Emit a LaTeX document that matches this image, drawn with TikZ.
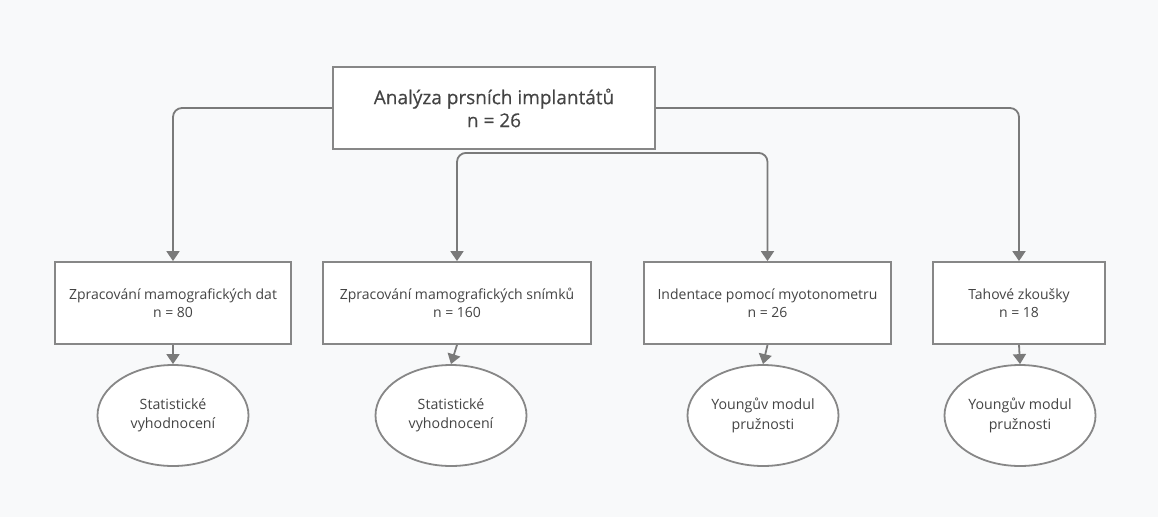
\documentclass[tikz,border=0pt]{standalone}
\usepackage{fontspec}
\setmainfont{Open Sans}
\newfontfamily\titlefont[FakeBold=0.4]{Open Sans}
\usetikzlibrary{shapes.geometric,arrows.meta}
\definecolor{bgc}{RGB}{248,249,250}
\definecolor{linec}{RGB}{122,122,122}
\definecolor{borderc}{RGB}{135,135,135}
\definecolor{txtc}{RGB}{68,68,68}
\tikzset{
  x=1pt, y=-1pt,
  topbox/.style={draw=borderc, line width=1.8pt, fill=white, rectangle,
    minimum width=322pt, minimum height=82pt, inner sep=0pt, align=center,
    text=txtc, font=\titlefont\fontsize{19}{23}\selectfont},
  stepbox/.style={draw=borderc, line width=1.8pt, fill=white, rectangle,
    minimum height=82pt, inner sep=0pt, align=center,
    text=txtc, font=\fontsize{14}{18.5}\selectfont},
  resbox/.style={draw=borderc, line width=1.8pt, fill=white, ellipse,
    minimum width=151pt, minimum height=101pt, inner sep=0pt, align=center,
    text=txtc, font=\fontsize{14.2}{19.5}\selectfont},
  arr/.style={draw=linec, line width=1.8pt, rounded corners=9pt,
    -{Triangle[width=13pt,length=10pt]}},
}
\begin{document}
\begin{tikzpicture}
\useasboundingbox[fill=bgc] (0,0) rectangle (1158,517);

\node[topbox] (top) at (494,108) {Analýza prsních implantátů\\n = 26};

\node[stepbox, minimum width=236pt] (b1) at (173,303) {Zpracování mamografických dat\\n = 80};
\node[stepbox, minimum width=268pt] (b2) at (457,303) {Zpracování mamografických snímků\\n = 160};
\node[stepbox, minimum width=247pt] (b3) at (767.5,303) {Indentace pomocí myotonometru\\n = 26};
\node[stepbox, minimum width=172pt] (b4) at (1019,303) {Tahové zkoušky\\n = 18};

\node[resbox] (e1) at (173,415.5) {Statistické\\vyhodnocení};
\node[resbox] (e2) at (451,415.5) {Statistické\\vyhodnocení};
\node[resbox] (e3) at (763,415.5) {Youngův modul\\pružnosti};
\node[resbox] (e4) at (1020,415.5) {Youngův modul\\pružnosti};

\coordinate (tb) at ([yshift=-3pt]top.south);

\draw[arr] (top.west) -| (b1.north);
\draw[arr] (top.east) -| (b4.north);
\draw[arr] (tb) -| (b2.north);
\draw[arr] (tb) -| (b3.north);

\draw[arr] (b1.south) -- (e1.north);
\draw[arr] (b2.south) -- (e2.north);
\draw[arr] (b3.south) -- (e3.north);
\draw[arr] (b4.south) -- (e4.north);
\end{tikzpicture}
\end{document}
